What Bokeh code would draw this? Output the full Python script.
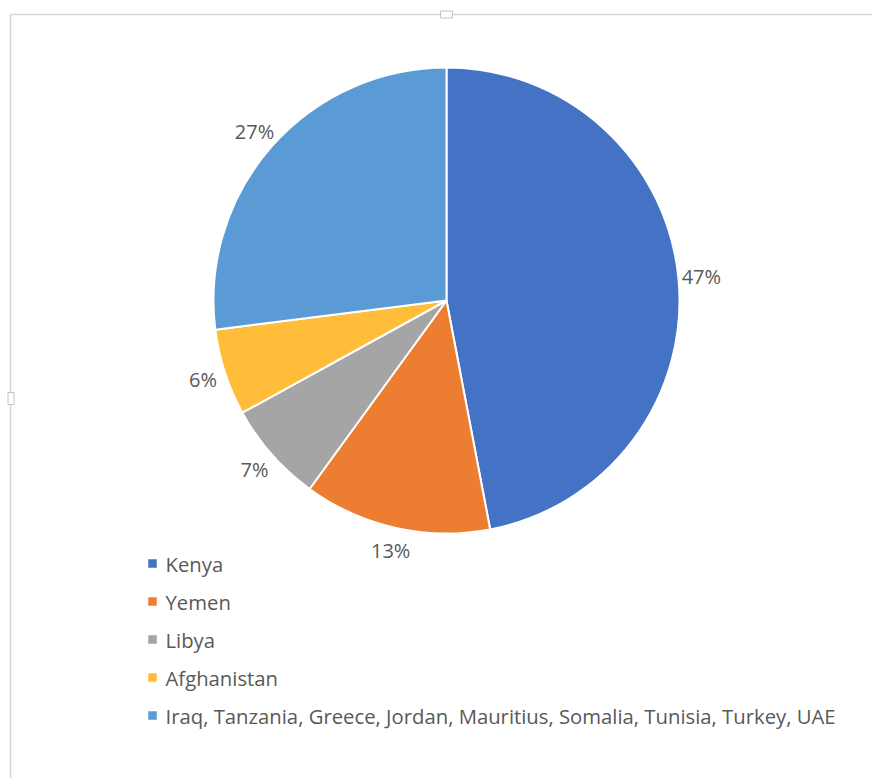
import math
from bokeh.plotting import figure
from bokeh.models import Range1d, ColumnDataSource
from bokeh.core.properties import value
from bokeh.embed import file_html
from bokeh.resources import INLINE

# ---- data ----
countries = ["Kenya", "Yemen", "Libya", "Afghanistan",
             "Iraq, Tanzania, Greece, Jordan, Mauritius, Somalia, Tunisia, Turkey, UAE"]
shares = [47, 13, 7, 6, 27]
colors = ["#4472C4", "#ED7D31", "#A5A5A5", "#FFBD3A", "#5B9BD5"]
pct_labels = ["47%", "13%", "7%", "6%", "27%"]

W, H = 872, 778
FONT = "Open Sans"
TXT = "#595959"

p = figure(width=W, height=H, output_backend="svg", toolbar_location=None,
           x_range=Range1d(0, W), y_range=Range1d(0, H),
           x_axis_location=None, y_axis_location=None, min_border=0)
p.grid.visible = False
p.outline_line_color = None
p.background_fill_color = "white"

# chart frame (Excel-like selection border)
p.segment(x0=[10, 10], y0=[764, 764], x1=[W, 10], y1=[764, 0],
          line_color="#d6d6d6", line_width=1.5)
p.rect(x=[446, 10.5], y=[764, 380], width=[12, 6], height=[7, 12],
       fill_color="white", line_color="#c4c4c4", line_width=1)

# pie
cx, cy, R = 446, 478, 233
total = sum(shares)
cum = 0.0
starts, ends, mids = [], [], []
for s in shares:
    a0 = cum / total
    cum += s
    a1 = cum / total
    starts.append(math.pi / 2 - a1 * 2 * math.pi)
    ends.append(math.pi / 2 - a0 * 2 * math.pi)
    mids.append(math.pi / 2 - (a0 + a1) / 2 * 2 * math.pi)

src = ColumnDataSource(dict(start=starts, end=ends, color=colors))
p.wedge(x=cx, y=cy, radius=R, start_angle="start", end_angle="end",
        fill_color="color", line_color="white", line_width=2, source=src)

LR = 256
lx = [cx + LR * math.cos(m) for m in mids]
ly = [cy + LR * math.sin(m) for m in mids]
p.text(x=lx, y=ly, text=pct_labels, text_align="center", text_baseline="middle",
       text_font=value(FONT), text_font_size="20px", text_color=TXT)

# legend
ly0, step = 215, 38
leg_y = [ly0 - i * step for i in range(len(countries))]
p.scatter(x=[152] * len(countries), y=leg_y, marker="square", size=8.5,
          fill_color=colors, line_color=None)
p.text(x=[165] * len(countries), y=leg_y, text=countries, text_align="left",
       text_baseline="middle", text_font=value(FONT), text_font_size="20.3px", text_color=TXT)

open("out.html", "w").write(file_html(p, INLINE))
